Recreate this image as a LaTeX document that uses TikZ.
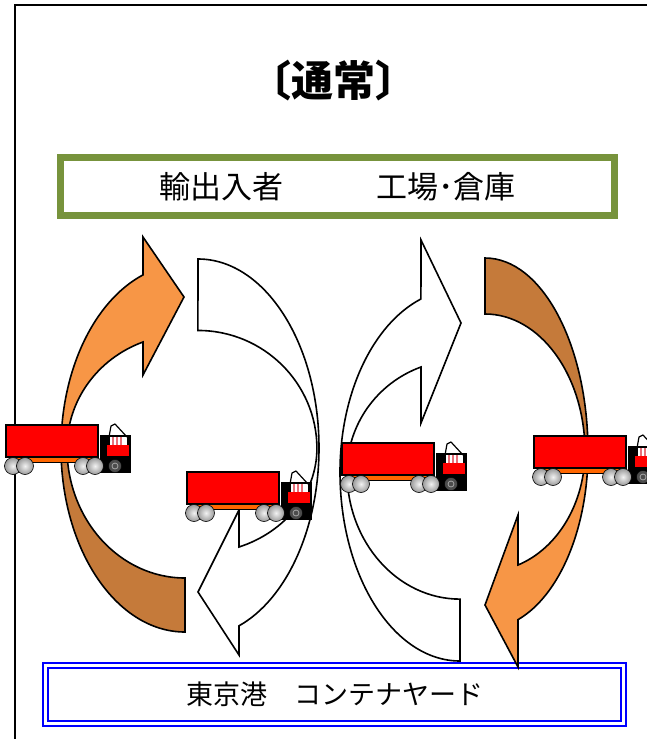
\documentclass[tikz,border=0pt]{standalone}
\usepackage{fontspec}
\usepackage{tikz}
\newfontfamily\jpfont{Noto Sans CJK JP}

\definecolor{arroworange}{HTML}{F79646}
\definecolor{arrowbrown}{HTML}{C57A3A}
\definecolor{boxgreen}{HTML}{77933C}
\definecolor{chassisorange}{HTML}{FF6600}
\definecolor{windowpink}{HTML}{E8707A}

\begin{document}
\begin{tikzpicture}[x=1pt, y=-1pt,
    curved/.style={draw=black, line width=1.6pt, line join=miter},
    trailer/.style={fill=red, draw=black, line width=1.8pt},
    wheel/.style={draw=black, line width=0.6pt, inner color=gray!10, outer color=gray!80},
    boxtext/.style={font=\jpfont\fontsize{31}{31}\selectfont, inner sep=0pt}]
  \useasboundingbox (0,0) rectangle (647,739);
  \clip (0,0) rectangle (647,739);
  \draw[line width=1.5pt] (15,760) -- (15,5) -- (660,5);

  \node[font=\jpfont\bfseries\fontsize{42}{42}\selectfont] (title) at (333,81) {〔通常〕};
  \node[boxtext, draw=boxgreen, line width=6.5pt, minimum width=554pt, minimum height=58pt]
    (shipper) at (337.5,186.5) {\raisebox{-3pt}{輸出入者　　　工場･倉庫}};
  \node[boxtext, font=\jpfont\fontsize{27}{27}\selectfont, draw=blue, line width=2pt,
    double=white, double distance=3pt, minimum width=578pt, minimum height=58pt]
    (port) at (334.5,694.5) {東京港　コンテナヤード};

  % left loop
  \filldraw[curved, fill=arroworange]
    (143,237) -- (184,297) -- (143,375) -- (143,342)
    arc[start angle=249.1, end angle=180, x radius=118, y radius=113]
    -- (61,448)
    arc[start angle=180, end angle=250.2, x radius=124, y radius=184] -- cycle;
  \filldraw[curved, fill=arrowbrown]
    (61,448) arc[start angle=180, end angle=90, x radius=124, y radius=184]
    -- (185,578)
    arc[start angle=90, end angle=180, x radius=118, y radius=130] -- cycle;
  \filldraw[curved, fill=white]
    (198,259) arc[start angle=-90, end angle=70.2, x radius=121, y radius=189]
    -- (239,655) -- (198,592) -- (239,510) -- (239,547)
    arc[start angle=69.8, end angle=0, x radius=119, y radius=105]
    arc[start angle=0, end angle=-90, x radius=119, y radius=118] -- cycle;

  % right loop
  \filldraw[curved, fill=white]
    (421,240) -- (461,323) -- (421,423) -- (421,367)
    arc[start angle=249.8, end angle=180, x radius=113, y radius=112]
    arc[start angle=180, end angle=90, x radius=113, y radius=127]
    -- (460,661)
    arc[start angle=90, end angle=180, x radius=120, y radius=189]
    arc[start angle=180, end angle=251, x radius=120, y radius=183] -- cycle;
  \filldraw[curved, fill=arrowbrown]
    (485,258) arc[start angle=-90, end angle=0, x radius=103, y radius=194]
    -- (585,452)
    arc[start angle=0, end angle=-90, x radius=100, y radius=138] -- cycle;
  \filldraw[curved, fill=arroworange]
    (588,452) arc[start angle=0, end angle=71.3, x radius=103, y radius=177]
    -- (518,667) -- (485,605) -- (518,515) -- (518,565)
    arc[start angle=70.7, end angle=0, x radius=100, y radius=120] -- cycle;

  % trucks
  \foreach \tx/\ty in {6/425, 187/472, 342/443, 534/436} {
    \begin{scope}[shift={(\tx,\ty)}]
      \fill[chassisorange] (8,31) rectangle (86,37);
      \draw[line width=0.8pt] (8,37) -- (86,37);
      \draw[trailer] (0,0) rectangle (92,32);
      % cab
      \fill[black] (94,10) rectangle (125,48);
      \fill[red] (101,20) rectangle (123,31);
      \fill[white] (104,12) rectangle (121,20);
      \foreach \s in {106,110,114} \fill[windowpink] (\s,12) rectangle (\s+1.5,20);
      \draw[line width=1.2pt, line join=round] (103,12) -- (105,1) -- (109,-1) -- (121,12);
      % wheels
      \foreach \wx in {7,19,77,89} \shade[wheel] (\wx,41) circle (8.5);
      \filldraw[draw=black, fill=gray!60!black] (109,41) circle (6.5);
      \draw[gray!70, line width=0.8pt] (109,41) circle (3);
    \end{scope}
  }
\end{tikzpicture}
\end{document}
